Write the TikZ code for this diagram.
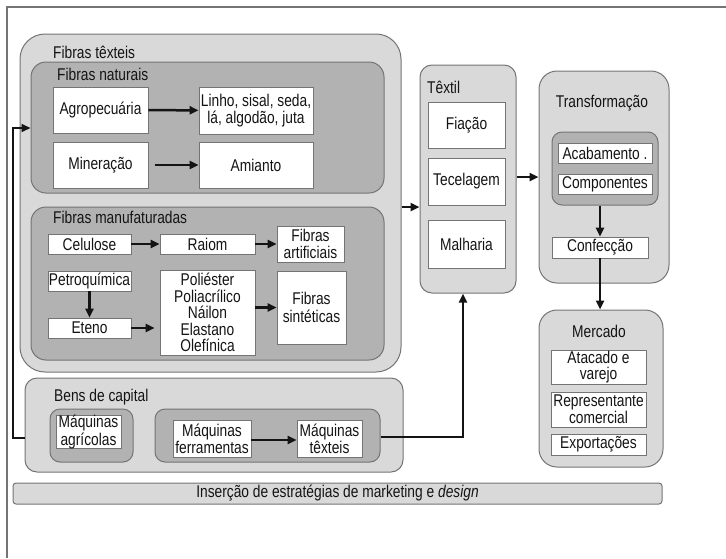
\documentclass[tikz,border=0pt]{standalone}
\usepackage{fontspec}
\setmainfont{Liberation Sans}[FakeStretch=0.81]
\usetikzlibrary{arrows.meta,calc}
\definecolor{ink}{HTML}{141414}
\definecolor{edge}{HTML}{747474}
\definecolor{pale}{HTML}{d9d9d9}
\definecolor{mid}{HTML}{b2b2b2}
\tikzset{
  txt/.style={font=\fontsize{17}{17}\selectfont,text=ink},
  grp/.style={draw=edge,fill=pale,line width=1pt,rounded corners=#1,inner sep=0pt},
  grp/.default=15pt,
  sub/.style={grp=#1,fill=mid},
  sub/.default=10pt,
  sz/.style 2 args={minimum width=#1,minimum height=#2},
  cell/.style={txt,draw=edge,fill=white,line width=0.8pt,align=center,inner sep=0pt},
  ttl/.style={txt,inner sep=0pt},
  arr/.style={-{Triangle[length=9pt,width=8pt]},line width=2.5pt,draw=ink},
}
\begin{document}
\begin{tikzpicture}[x=1pt,y=-1pt]
\useasboundingbox (0,0) rectangle (726,558);
\draw[edge,line width=1.5pt] (726,7) -- (7,7) -- (7,558);

% fibras textiles
\node[grp=25pt,sz={381pt}{338pt}] (fibras) at (210.5,203) {};
\node[ttl,anchor=base west] (tfib) at (53,58) {Fibras têxteis};
\node[sub=15pt,sz={353pt}{131pt}] (naturais) at (207.5,127.5) {};
\node[ttl,anchor=base west] (tnat) at (57,80) {Fibras naturais};
\node[cell,sz={95pt}{46pt}] (agro) at (100.5,110) {Agropecuária};
\node[cell,sz={114pt}{47pt}] (linho) at (256,110.5) {Linho, sisal, seda,\\lá, algodão, juta};
\node[cell,sz={95pt}{46pt}] (miner) at (100.5,165) {Mineração};
\node[cell,sz={114pt}{46pt}] (amianto) at (256,165) {Amianto};
\draw[arr] (agro) -- (linho);
\draw[arr,shorten <=7pt] (miner) -- (amianto);

\node[sub=15pt,sz={353pt}{153pt}] (manuf) at (207.5,283.5) {};
\node[ttl,anchor=base west] (tman) at (53,223) {Fibras manufaturadas};
\node[cell,sz={83pt}{20pt}] (celulose) at (89.5,244) {Celulose};
\node[cell,sz={95pt}{20pt}] (raiom) at (207.5,244) {Raiom};
\node[cell,sz={67pt}{36pt}] (artif) at (310.5,244) {Fibras\\artificiais};
\node[cell,sz={83pt}{20pt}] (petro) at (89.5,281) {Petroquímica};
\node[cell,sz={83pt}{20pt}] (eteno) at (89.5,328) {Eteno};
\node[cell,sz={95pt}{85pt},font=\fontsize{17}{16.5}\selectfont] (polie) at (207.5,312.5) {Poliéster\\Poliacrílico\\Náilon\\Elastano\\Olefínica};
\node[cell,sz={69pt}{73pt},font=\fontsize{17}{18.5}\selectfont] (sinte) at (311.5,307.5) {Fibras\\sintéticas};
\draw[arr] (celulose) -- (raiom);
\draw[arr] (raiom) -- (artif);
\draw[arr] (petro) -- (eteno);
\draw[arr,shorten >=5pt] (eteno) -- (eteno -| polie.west);
\draw[arr] (polie.east |- sinte) -- (sinte);

% bens de capital
\node[grp=12pt,sz={378pt}{94pt}] (bens) at (214,425) {};
\node[ttl,anchor=base west] (tbens) at (54,401) {Bens de capital};
\node[sub,sz={83pt}{53pt}] (agrgrp) at (91.5,435.5) {};
\node[cell,sz={65pt}{30pt},font=\fontsize{17}{15}\selectfont] (maqagr) at (88.5,432) {Máquinas\\agrícolas};
\node[sub,sz={225pt}{53pt}] (maqgrp) at (267.5,435.5) {};
\node[cell,sz={78pt}{37pt},font=\fontsize{17}{15.5}\selectfont] (maqfer) at (212,438.5) {Máquinas\\ferramentas};
\node[cell,sz={65pt}{37pt},font=\fontsize{17}{15.5}\selectfont] (maqtex) at (329.5,438.5) {Máquinas\\têxteis};
\draw[arr] (maqfer.east |- 0,440) -- (maqtex.west |- 0,440);

% textil
\node[grp=12pt,sz={96pt}{228pt}] (textil) at (468,179) {};
\node[ttl,anchor=base west] (ttex) at (427,93) {Têxtil};
\node[cell,sz={77pt}{46pt}] (fiacao) at (466.5,125) {Fiação};
\node[cell,sz={77pt}{47pt}] (tecel) at (466.5,181.5) {Tecelagem};
\node[cell,sz={77pt}{48pt}] (malha) at (466.5,244) {Malharia};

% transformacao
\node[grp=18pt,sz={130pt}{212pt}] (transf) at (604,177) {};
\node[ttl,anchor=base] (ttra) at (602,107) {Transformação};
\node[sub,sz={106pt}{73pt}] (acabgrp) at (605,168.5) {};
\node[cell,sz={94pt}{20pt}] (acab) at (605,153) {Acabamento .};
\node[cell,sz={94pt}{20pt}] (compo) at (605,184) {Componentes};
\node[cell,sz={96pt}{21pt}] (confec) at (600,247.5) {Confecção};
\draw[arr] (confec.north |- acabgrp.south) -- (confec.north);

% mercado
\node[grp=18pt,sz={124pt}{157pt}] (mercado) at (601,388.5) {};
\node[ttl,anchor=base] (tmer) at (599,337) {Mercado};
\node[cell,sz={95pt}{34pt},font=\fontsize{17}{15.5}\selectfont] (atac) at (598.5,367) {Atacado e\\varejo};
\node[cell,sz={95pt}{35pt},font=\fontsize{17}{15.5}\selectfont] (repres) at (598.5,409.5) {Representante\\comercial};
\node[cell,sz={95pt}{21pt}] (export) at (598.5,444.5) {Exportações};
\draw[arr] (confec.south) -- (confec.south |- mercado.north);

% ligacoes
\draw[arr] (fibras.east |- 0,207) -- (textil.west |- 0,207);
\draw[arr] (textil.east |- 0,177) -- (transf.west |- 0,177);
\draw[arr] (maqgrp.east |- 0,437) -| ([xshift=-5pt]textil.south);
\coordinate (bk) at (13,438);
\draw[arr,line width=1.8pt] (bk -| bens.west) -- (bk) |- (naturais.west |- 0,128);

\node[grp=3pt,sz={649pt}{21pt},txt] (bar) at (337.5,493.5) {Inserção de estratégias de marketing e \textit{design}};
\end{tikzpicture}
\end{document}
